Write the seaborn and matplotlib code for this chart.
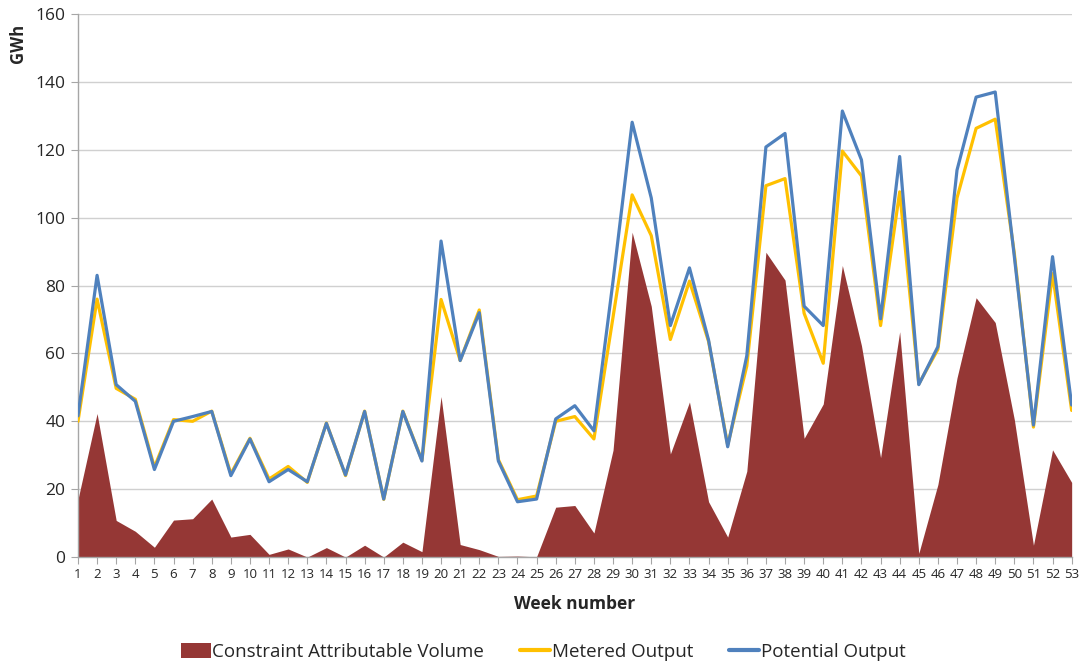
import matplotlib
matplotlib.use("Agg")
import matplotlib.pyplot as plt
import seaborn as sns
import pandas as pd
from matplotlib.patches import Patch
from matplotlib.lines import Line2D

weeks = list(range(1, 54))
constraint = [17, 42.3, 10.8, 7.6, 2.9, 10.9, 11.3, 17.1, 5.9, 6.7,
              0.8, 2.4, 0, 2.8, 0, 3.5, 0, 4.4, 1.6, 47.3,
              3.7, 2.2, 0.2, 0.3, 0.1, 14.7, 15.2, 7.1, 31.5, 95.7,
              73.9, 30.4, 45.7, 16.3, 5.9, 25.3, 89.8, 81.6, 35, 45.1,
              85.9, 62.3, 29.3, 66.4, 1.1, 21.4, 52.8, 76.4, 69.1, 40.5,
              3.5, 31.6, 22]
metered = [40, 76, 49.7, 46.5, 26.5, 40.5, 40, 43, 24.5, 35,
           23, 26.7, 22, 39.5, 24, 43, 17, 43, 28.5, 75.9,
           57.9, 72.8, 28.7, 16.9, 18, 40, 41.4, 34.8, 70.7, 106.7,
           94.7, 64.1, 81.3, 63.5, 33, 56.3, 109.4, 111.5, 71.8, 57.1,
           119.6, 112.3, 68.2, 107.6, 51, 61.2, 105.8, 126.3, 129, 89.5,
           38.3, 83.5, 43.2]
potential = [41.6, 83, 50.8, 45.9, 25.8, 40, 41.4, 42.9, 24, 34.8,
             22.2, 25.8, 22.2, 39.4, 24.2, 42.9, 17.1, 42.9, 28.3, 93.1,
             57.9, 72, 28.3, 16.3, 17.1, 40.7, 44.6, 37.2, 81.3, 128.1,
             105.8, 68.2, 85.2, 63.9, 32.5, 59.3, 120.8, 124.8, 73.9, 68.2,
             131.4, 117, 70.2, 118, 50.8, 62, 114, 135.5, 137, 88.5,
             38.9, 88.5, 44.8]

df = pd.DataFrame({"week": weeks, "constraint": constraint,
                   "metered": metered, "potential": potential})

sns.set_style("white")
plt.rcParams['font.family'] = ['Open Sans', 'DejaVu Sans']

col_area = '#953735'
col_met = '#FFC000'
col_pot = '#4F81BD'

fig = plt.figure(figsize=(10.86, 6.64), dpi=100)
ax = fig.add_axes([0.0718, 0.161, 0.915, 0.818])

# constraint volume as filled area, outputs as lines
ax.fill_between(df['week'], 0, df['constraint'], color=col_area, linewidth=0, zorder=2)
sns.lineplot(data=df, x='week', y='metered', color=col_met, linewidth=2.3, ax=ax, zorder=3)
sns.lineplot(data=df, x='week', y='potential', color=col_pot, linewidth=2.3, ax=ax, zorder=4)

ax.set_xlim(1, 53)
ax.set_ylim(0, 160)
ax.set_yticks(range(0, 161, 20))
ax.set_xticks(weeks)
ax.set_xticklabels([str(w) for w in weeks], fontsize=9.5)
ax.tick_params(axis='y', labelsize=12.5, length=5, color='#a6a6a6', direction='out', left=True, pad=4)
ax.tick_params(axis='x', length=5, color='#a6a6a6', direction='out', bottom=True, pad=3)
ax.grid(axis='y', color='#d0d0d0', linewidth=1, zorder=0)
ax.set_axisbelow(True)
for s in ['top', 'right']:
    ax.spines[s].set_visible(False)
for s in ['left', 'bottom']:
    ax.spines[s].set_color('#a6a6a6')
    ax.spines[s].set_linewidth(1)

ax.set_xlabel('Week number', fontsize=12.5, fontweight='bold', labelpad=10)
ax.set_ylabel('')
fig.text(0.017, 0.935, 'GWh', rotation=90, fontsize=12, fontweight='bold',
         ha='center', va='center')

handles = [Patch(facecolor=col_area, edgecolor='none'),
           Line2D([0], [0], color=col_met, linewidth=3),
           Line2D([0], [0], color=col_pot, linewidth=3)]
labels = ['Constraint Attributable Volume', 'Metered Output', 'Potential Output']
fig.legend(handles, labels, loc='center', bbox_to_anchor=(0.5, 0.018), ncol=3,
           frameon=False, fontsize=13.5, handlelength=1.6, handleheight=0.9,
           handletextpad=0.1, columnspacing=1.9)

fig.savefig('out.png', dpi=100)
